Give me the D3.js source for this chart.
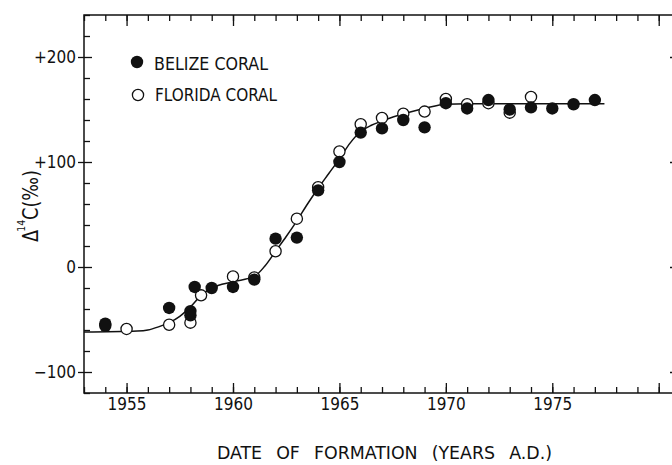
<!DOCTYPE html>
<html>
<head>
<meta charset="utf-8">
<script src="https://cdn.jsdelivr.net/npm/d3@7"></script>
<style>
  html, body { margin: 0; padding: 0; background: #fff; }
  svg { display: block; }
  text { font-family: "Liberation Sans Narrow", "DejaVu Sans Condensed", "Roboto Condensed", sans-serif; fill: #111; }
</style>
</head>
<body>
<svg id="chart"></svg>
<script>
const width = 672
const height = 465

// belize coral (filled circles)
const belizeYears  = [1954, 1954, 1957, 1958, 1958, 1958.2, 1959, 1960, 1961, 1962, 1963, 1964, 1965, 1966, 1967, 1968, 1969, 1970, 1971, 1972, 1973, 1974, 1975, 1976, 1977]
const belizeValues = [-54, -56, -39, -42, -46, -19, -20, -19, -12, 27, 28, 73, 100, 128, 132, 140, 133, 156, 151, 159, 150, 152, 151, 155, 159]

// florida coral (open circles)
const floridaYears  = [1955, 1957, 1958, 1958.5, 1960, 1961, 1962, 1963, 1964, 1965, 1966, 1967, 1968, 1969, 1970, 1971, 1972, 1973, 1974]
const floridaValues = [-59, -55, -53, -27, -9, -10, 15, 46, 76, 110, 136, 142, 146, 148, 160, 155, 156, 147, 162]

// fitted curve
const curveYears  = [1953, 1955.5, 1956, 1956.5, 1957, 1957.5, 1958, 1958.5, 1959, 1960, 1961, 1961.5, 1962, 1962.5, 1963, 1963.5, 1964, 1964.5, 1965, 1965.5, 1966, 1966.5, 1967, 1968, 1969, 1970, 1971, 1977.45]
const curveValues = [-62, -61, -60, -57, -53, -47, -38, -27, -20, -14, -9, 1, 15, 29, 44, 60, 75, 89, 103, 118, 129, 135, 139, 146, 151, 155, 155.5, 155.5]

const xMajorTicks = [1955, 1960, 1965, 1970, 1975, 1980]
const xTickLabels = [1955, 1960, 1965, 1970, 1975]
const yMajorTicks = [-100, 0, 100, 200]
const yTickLabels = ['\u2212100', '0', '+100', '+200']

const legendNames = ['BELIZE CORAL', 'FLORIDA CORAL']

const svg = d3.select('#chart').attr('width', width).attr('height', height)

const frame = { left: 84, right: 680, top: 15, bottom: 393 }

const x = d3.scaleLinear().domain([1953, 1981]).range([frame.left, frame.right])
const y = d3.scaleLinear().domain([-120, 240]).range([frame.bottom, frame.top])

const years = d3.range(1953, 1982)
const minorY = d3.range(-120, 241, 20).filter(v => yMajorTicks.indexOf(v) < 0)

function clean(g) {
  g.select('.domain').remove()
  g.selectAll('line').attr('stroke', '#111').attr('stroke-width', 1.3)
}

// frame
svg.append('rect')
  .attr('x', frame.left).attr('y', frame.top)
  .attr('width', frame.right - frame.left).attr('height', frame.bottom - frame.top)
  .attr('fill', 'none').attr('stroke', '#111').attr('stroke-width', 1.5)

// bottom axis, minor + major ticks pointing inward
svg.append('g').attr('transform', `translate(0,${frame.bottom})`)
  .call(d3.axisBottom(x).tickValues(years).tickSize(-6).tickFormat(''))
  .call(clean)
svg.append('g').attr('transform', `translate(0,${frame.bottom})`)
  .call(d3.axisBottom(x).tickValues(xMajorTicks).tickSize(-10).tickPadding(0)
    .tickFormat(d => xTickLabels.indexOf(d) >= 0 ? d : ''))
  .call(clean)
  .call(g => g.selectAll('text')
    .attr('font-size', 17).attr('y', 17).attr('dy', 0).attr('fill', '#111'))

// top axis
svg.append('g').attr('transform', `translate(0,${frame.top})`)
  .call(d3.axisTop(x).tickValues(years).tickSize(-6).tickFormat(''))
  .call(clean)
svg.append('g').attr('transform', `translate(0,${frame.top})`)
  .call(d3.axisTop(x).tickValues(xMajorTicks).tickSize(-11).tickFormat(''))
  .call(clean)

// left axis
svg.append('g').attr('transform', `translate(${frame.left},0)`)
  .call(d3.axisLeft(y).tickValues(minorY).tickSize(-6).tickFormat(''))
  .call(clean)
svg.append('g').attr('transform', `translate(${frame.left},0)`)
  .call(d3.axisLeft(y).tickValues(yMajorTicks).tickSize(-8).tickFormat(''))
  .call(clean)
svg.append('g').attr('transform', `translate(${frame.left},0)`)
  .call(d3.axisLeft(y).tickValues(yMajorTicks).tickSize(6).tickPadding(2)
    .tickFormat((d, i) => yTickLabels[i]))
  .call(clean)
  .call(g => g.selectAll('text').attr('font-size', 17).attr('fill', '#111'))

// right axis (frame edge sits just outside the window)
svg.append('g').attr('transform', `translate(${frame.right},0)`)
  .call(d3.axisRight(y).tickValues(yMajorTicks).tickSize(-10).tickFormat(''))
  .call(clean)

// fitted curve
const curveData = curveYears.map((d, i) => ({ year: d, value: curveValues[i] }))
const line = d3.line()
  .x(d => x(d.year))
  .y(d => y(d.value))
  .curve(d3.curveMonotoneX)

svg.append('path')
  .attr('d', line(curveData))
  .attr('fill', 'none')
  .attr('stroke', '#111')
  .attr('stroke-width', 1.5)

// points: florida underneath, belize on top
const florida = floridaYears.map((d, i) => ({ year: d, value: floridaValues[i] }))
const belize = belizeYears.map((d, i) => ({ year: d, value: belizeValues[i] }))

svg.append('g').selectAll('circle')
  .data(florida).enter().append('circle')
  .attr('cx', d => x(d.year)).attr('cy', d => y(d.value))
  .attr('r', 5.6)
  .attr('fill', '#fff').attr('stroke', '#111').attr('stroke-width', 1.3)

svg.append('g').selectAll('circle')
  .data(belize).enter().append('circle')
  .attr('cx', d => x(d.year)).attr('cy', d => y(d.value))
  .attr('r', 6.2)
  .attr('fill', '#111')

// legend
const legend = svg.append('g')
legend.append('circle').attr('cx', 137).attr('cy', 62).attr('r', 6.2).attr('fill', '#111')
legend.append('circle').attr('cx', 138).attr('cy', 95).attr('r', 5.6)
  .attr('fill', '#fff').attr('stroke', '#111').attr('stroke-width', 1.3)
legend.append('text').text(legendNames[0])
  .attr('x', 154).attr('y', 70).attr('font-size', 18)
  .attr('textLength', 114).attr('lengthAdjust', 'spacingAndGlyphs')
legend.append('text').text(legendNames[1])
  .attr('x', 155).attr('y', 101).attr('font-size', 18)
  .attr('textLength', 122).attr('lengthAdjust', 'spacingAndGlyphs')

// axis titles
svg.append('text')
  .text('DATE OF FORMATION (YEARS A.D.)')
  .attr('x', 217).attr('y', 459)
  .attr('font-size', 18)
  .attr('word-spacing', 8)
  .attr('textLength', 335).attr('lengthAdjust', 'spacingAndGlyphs')

const yTitle = svg.append('text')
  .attr('transform', 'translate(38,242) rotate(-90)')
  .attr('font-size', 21)
  .attr('textLength', 72).attr('lengthAdjust', 'spacingAndGlyphs')
yTitle.append('tspan').text('\u0394')
yTitle.append('tspan').text('14').attr('font-size', 11).attr('dy', -13).attr('dx', -2)
yTitle.append('tspan').text('C(\u2030)').attr('dy', 13)
</script>
</body>
</html>
